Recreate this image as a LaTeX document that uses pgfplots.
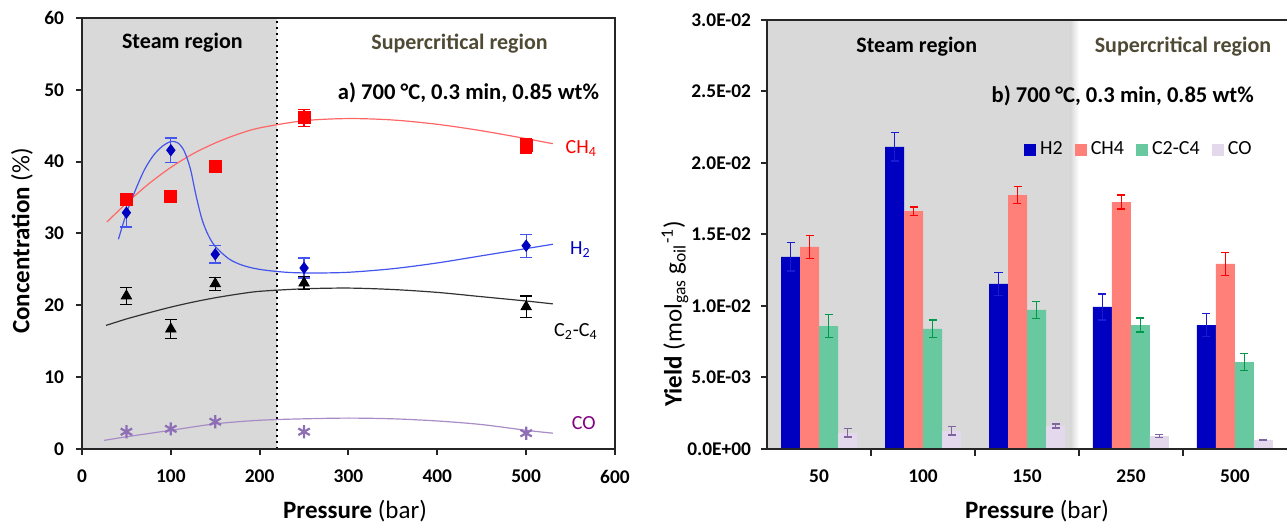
\documentclass[border=0pt]{standalone}
\usepackage{fontspec}
\setmainfont{Carlito}
\usepackage{pgfplots}
\usepackage{pgfplotstable}
\pgfplotsset{compat=1.18}
\definecolor{bgshade}{HTML}{D9D9D9}
\definecolor{chred}{HTML}{FF0000}
\definecolor{chline}{HTML}{FF6666}
\definecolor{hblue}{HTML}{0000C0}
\definecolor{hline}{HTML}{4455EE}
\definecolor{copurple}{HTML}{8E6FB5}
\definecolor{coline}{HTML}{A88CC8}
\definecolor{colabel}{HTML}{800080}
\definecolor{supercol}{HTML}{4F4A35}
\definecolor{barH}{HTML}{0000C0}
\definecolor{barCH}{HTML}{FF8078}
\definecolor{barCC}{HTML}{68C9A0}
\definecolor{barCO}{HTML}{E4D8EC}
\definecolor{errH}{HTML}{1A1AD0}
\definecolor{errCH}{HTML}{FF0000}
\definecolor{errCC}{HTML}{00994C}
\definecolor{errCO}{HTML}{8064A2}

\pgfplotstableread{
x y e
50 34.8 0.8
100 35.1 0.8
150 39.3 0.8
250 46.1 1.2
500 42.2 1.0
}\chfour
\pgfplotstableread{
x y e
50 32.9 2.0
100 41.6 1.7
150 27.1 1.2
250 25.2 1.4
500 28.3 1.6
}\htwo
\pgfplotstableread{
x y e
50 21.3 1.2
100 16.7 1.3
150 23.0 0.9
250 23.1 0.9
500 19.8 1.5
}\ctwofour
\pgfplotstableread{
x y e
50 2.4 0.3
100 2.8 0.3
150 3.8 0.3
250 2.4 0.3
500 2.2 0.3
}\cotab
\pgfplotstableread{
x h2 h2e ch4 ch4e cc cce co coe
0 0.01343 0.0010 0.01413 0.0008 0.0086 0.0008 0.00112 0.0003
1 0.02112 0.0010 0.01664 0.0003 0.0084 0.0006 0.00126 0.0003
2 0.01154 0.0008 0.01776 0.0006 0.00972 0.0006 0.0016 0.00015
3 0.00993 0.0009 0.01727 0.0005 0.00867 0.0005 0.0009 0.0001
4 0.00867 0.0008 0.01294 0.0008 0.00608 0.0006 0.00063 0.00004
}\bars

\begin{document}
\begin{tikzpicture}
\useasboundingbox (0,0) rectangle (643.5pt,261pt);
% ---------------- left chart ----------------
\begin{axis}[
  at={(41pt,36.5pt)}, anchor=south west, scale only axis,
  width=266.5pt, height=215.5pt,
  xmin=0, xmax=600, ymin=0, ymax=60,
  xtick={0,100,...,600}, ytick={0,10,...,60},
  tick align=outside, xtick pos=bottom, ytick pos=left,
  major tick length=3pt,
  axis line style={line width=1pt, black!85},
  tick style={line width=1pt, black!85},
  ticklabel style={font=\fontsize{9.7}{11}\selectfont\bfseries},
  xticklabel style={yshift=-4pt},
  yticklabel style={xshift=-2.5pt},
  /pgf/number format/assume math mode=true,
  axis on top, clip=false,
]
\fill[bgshade] (axis cs:0,0) rectangle (axis cs:220,60);
\draw[line width=1pt, dotted] (axis cs:220,0) -- (axis cs:220,60);
% fitted curves
\addplot[smooth, line width=0.6pt, chline] coordinates {
 (28,31.6) (50,34.2) (75,36.9) (100,39.2) (125,41.1) (150,42.6) (175,43.8)
 (200,44.7) (250,45.7) (300,46.0) (350,45.8) (400,45.2) (450,44.3) (500,43.2) (530,42.5)};
\addplot[smooth, line width=0.6pt, hline] coordinates {
 (41,29.2) (50,32.8) (60,36) (70,38.8) (80,40.8) (90,42.1) (100,42.8) (108,42.6)
 (115,41.5) (122,39) (128,35.5) (135,32) (142,29.8) (150,28.2) (165,26.5) (180,25.6)
 (200,25) (230,24.6) (260,24.5) (300,24.6) (350,25.1) (400,25.9) (450,26.9) (500,27.9) (530,28.5)};
\addplot[smooth, line width=0.6pt, black!80] coordinates {
 (27,17.2) (50,18.1) (75,18.95) (100,19.75) (125,20.45) (150,21.05) (175,21.55)
 (200,21.95) (250,22.3) (300,22.4) (350,22.2) (400,21.8) (450,21.2) (500,20.6) (530,20.2)};
\addplot[smooth, line width=0.6pt, coline] coordinates {
 (25,1.2) (50,1.7) (100,2.6) (150,3.5) (200,4.0) (250,4.2) (300,4.3)
 (350,4.2) (400,3.9) (450,3.4) (500,2.6) (530,2.2)};
% data points
\addplot[only marks, mark=square*, mark size=3pt, chred,
  error bars/.cd, y dir=both, y explicit,
  error bar style={line width=0.6pt, chred},
  error mark options={rotate=90, mark size=3pt, line width=0.6pt, chred}]
  table[x=x, y=y, y error=e] {\chfour};
\addplot[only marks, mark=diamond*, mark size=2.8pt, hblue,
  error bars/.cd, y dir=both, y explicit,
  error bar style={line width=0.6pt, hline},
  error mark options={rotate=90, mark size=3pt, line width=0.6pt, hline}]
  table[x=x, y=y, y error=e] {\htwo};
\addplot[only marks, mark=triangle*, mark size=3pt, black,
  error bars/.cd, y dir=both, y explicit,
  error bar style={line width=0.6pt, black},
  error mark options={rotate=90, mark size=3pt, line width=0.6pt, black}]
  table[x=x, y=y, y error=e] {\ctwofour};
\addplot[only marks, mark=asterisk, mark size=3.3pt, line width=1.1pt, copurple]
  table[x=x, y=y] {\cotab};
% texts
\node[font=\fontsize{11}{13}\selectfont\bfseries] at (axis cs:113,56.5) {Steam region};
\node[font=\fontsize{11}{13}\selectfont\bfseries, text=supercol] at (axis cs:425,56.5) {Supercritical region};
\node[font=\fontsize{11.3}{13}\selectfont\bfseries] at (axis cs:435,49.6) {a) 700 °C, 0.3 min, 0.85 wt\%};
\node[anchor=west, inner sep=0pt, text=chred, font=\fontsize{10}{12}\selectfont] at (axis cs:544,41.8) {CH\textsubscript{4}};
\node[anchor=west, inner sep=0pt, text=hblue, font=\fontsize{10}{12}\selectfont] at (axis cs:549,27.7) {H\textsubscript{2}};
\node[anchor=west, inner sep=0pt, text=black, font=\fontsize{10}{12}\selectfont] at (axis cs:531,16.4) {C\textsubscript{2}-C\textsubscript{4}};
\node[anchor=west, inner sep=0pt, text=colabel, font=\fontsize{10}{12}\selectfont] at (axis cs:551,3.6) {CO};
\end{axis}
\node[rotate=90, font=\fontsize{12.5}{14}\selectfont] at (11pt,140.5pt) {\textbf{Concentration} (\%)};
\node[font=\fontsize{12.5}{14}\selectfont] at (177.5pt,5.5pt) {\textbf{Pressure} (bar)};
% ---------------- right chart ----------------
\begin{axis}[
  at={(383.5pt,36.5pt)}, anchor=south west, scale only axis,
  width=260pt, height=214.5pt,
  xmin=-0.5, xmax=4.5, ymin=0, ymax=0.03,
  axis x line*=bottom, axis y line*=left,
  axis line style={line width=1pt, black!85, -},
  ybar=0pt, bar width=9.5pt,
  xtick={0,1,2,3,4}, xticklabels={50,100,150,250,500},
  major x tick style={draw=none},
  minor xtick={0.5,1.5,2.5,3.5},
  ytick={0,0.005,0.01,0.015,0.02,0.025,0.03},
  yticklabels={0.0E+00,5.0E-03,1.0E-02,1.5E-02,2.0E-02,2.5E-02,3.0E-02},
  scaled y ticks=false,
  tick align=outside,
  major tick length=3pt, minor tick length=3.5pt,
  tick style={line width=1pt, black!85},
  ticklabel style={font=\fontsize{9.7}{11}\selectfont\bfseries},
  xticklabel style={yshift=-4pt},
  yticklabel style={xshift=-1.5pt},
  /pgf/number format/assume math mode=true,
  axis on top, clip=false,
  legend style={at={(0.717,0.697)}, anchor=center, draw=none, fill=none,
    font=\fontsize{10}{12}\selectfont, legend columns=4,
    /tikz/every even column/.append style={column sep=4pt}},
  legend image code/.code={\fill[#1] (0pt,-3pt) rectangle (6pt,3pt);},
]
\fill[bgshade] (axis cs:-0.5,0) rectangle (axis cs:2.42,0.03);
\shade[left color=bgshade, right color=white] (axis cs:2.42,0) rectangle (axis cs:2.5,0.03);
\draw[line width=1pt, black!85] (rel axis cs:0,1) -- (rel axis cs:1,1);
\addplot[fill=barH, draw=none,
  error bars/.cd, y dir=both, y explicit,
  error bar style={line width=0.8pt, errH},
  error mark options={rotate=90, mark size=2pt, line width=0.8pt, errH}]
  table[x=x, y=h2, y error=h2e] {\bars};
\addplot[fill=barCH, draw=none,
  error bars/.cd, y dir=both, y explicit,
  error bar style={line width=0.8pt, errCH},
  error mark options={rotate=90, mark size=2pt, line width=0.8pt, errCH}]
  table[x=x, y=ch4, y error=ch4e] {\bars};
\addplot[fill=barCC, draw=none,
  error bars/.cd, y dir=both, y explicit,
  error bar style={line width=0.8pt, errCC},
  error mark options={rotate=90, mark size=2pt, line width=0.8pt, errCC}]
  table[x=x, y=cc, y error=cce] {\bars};
\addplot[fill=barCO, draw=none,
  error bars/.cd, y dir=both, y explicit,
  error bar style={line width=0.8pt, errCO},
  error mark options={rotate=90, mark size=2pt, line width=0.8pt, errCO}]
  table[x=x, y=co, y error=coe] {\bars};
\legend{H2,CH4,C2-C4,CO}
\node[font=\fontsize{11}{13}\selectfont\bfseries] at (rel axis cs:0.288,0.937) {Steam region};
\node[font=\fontsize{11}{13}\selectfont\bfseries, text=supercol] at (rel axis cs:0.80,0.937) {Supercritical region};
\node[font=\fontsize{11.3}{13}\selectfont\bfseries] at (rel axis cs:0.684,0.823) {b) 700 °C, 0.3 min, 0.85 wt\%};
\end{axis}
\node[rotate=90, font=\fontsize{12.5}{14}\selectfont] at (337.5pt,104pt) {\textbf{Yield} (mol\textsubscript{gas} g\textsubscript{oil}\textsuperscript{-1})};
\node[font=\fontsize{12.5}{14}\selectfont] at (518.5pt,5.5pt) {\textbf{Pressure} (bar)};
\end{tikzpicture}
\end{document}
